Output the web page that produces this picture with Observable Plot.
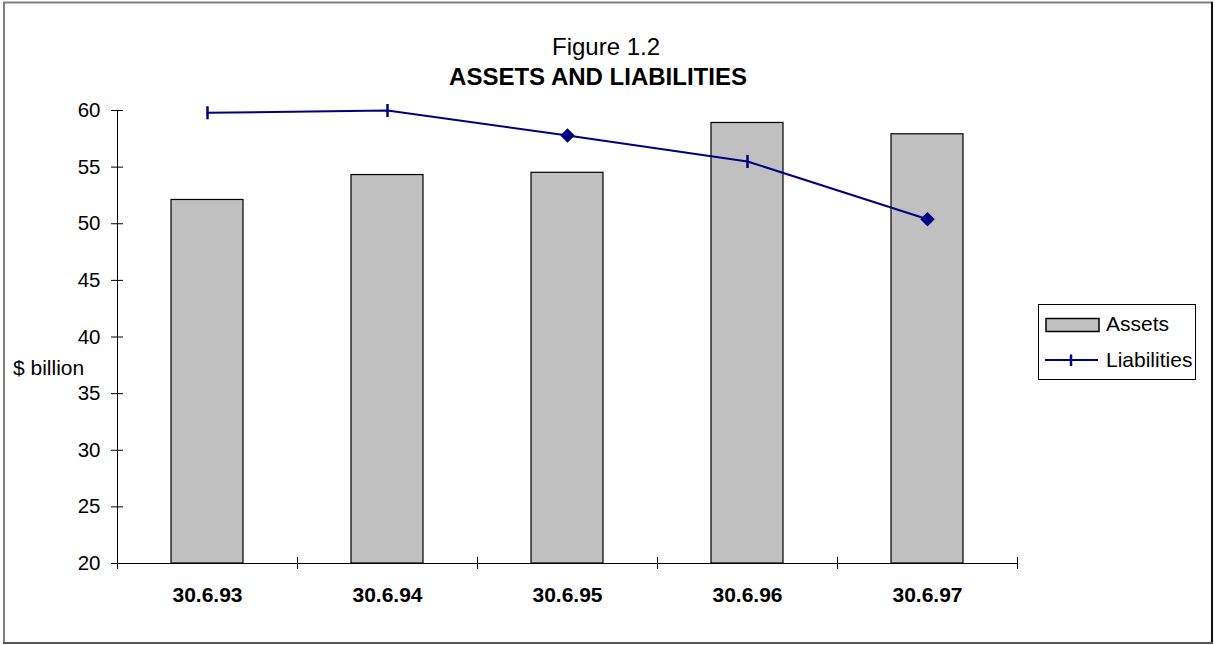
<!DOCTYPE html>
<html>
<head>
<meta charset="utf-8">
<script src="https://cdn.jsdelivr.net/npm/d3@7"></script>
<script src="https://cdn.jsdelivr.net/npm/@observablehq/plot@0.6"></script>
<style>
  html, body { margin: 0; padding: 0; background: #fff; }
  #wrap { position: relative; width: 1215px; height: 645px; overflow: hidden; }
  #wrap svg { position: absolute; left: 0; top: 0; }
</style>
</head>
<body>
<div id="wrap"></div>
<script>
// ---- data ----
const dates = ["30.6.93", "30.6.94", "30.6.95", "30.6.96", "30.6.97"];
const assets = [52.1, 54.3, 54.5, 58.9, 57.9];
const liabilities = [59.8, 60.0, 57.8, 55.5, 50.4];
const yTicks = [20, 25, 30, 35, 40, 45, 50, 55, 60];
const seriesNames = ["Assets", "Liabilities"];
const titleLines = ["Figure 1.2", "ASSETS AND LIABILITIES"];
const yLabel = "$ billion";

const rows = dates.map((d, i) => ({ date: d, assets: assets[i], liabilities: liabilities[i], i }));
const diamondIdx = new Set([2, 4]);

const navy = "#000080";
const font = "'Liberation Sans', Arial, Helvetica, sans-serif";

const vbar = {
  draw(context, size) {
    const h = Math.sqrt(size / Math.PI);
    context.moveTo(0, -h);
    context.lineTo(0, h);
  }
};

const chart = Plot.plot({
  width: 1215,
  height: 645,
  marginLeft: 117,
  marginRight: 198,
  marginTop: 110,
  marginBottom: 82,
  style: { fontFamily: font, fontSize: "20px", color: "#000", background: "transparent" },
  x: { domain: dates, paddingInner: 0.6, paddingOuter: 0.3, label: null },
  y: { domain: [20, 60], ticks: yTicks, label: null },
  marks: [
    Plot.barY(rows, { x: "date", y1: 20, y2: "assets", fill: "#c0c0c0", stroke: "#000", strokeWidth: 1.2 }),
    Plot.frame({ anchor: "left", stroke: "#000" }),
    Plot.frame({ anchor: "bottom", stroke: "#000" }),
    Plot.tickY(yTicks, { y: d => d, insetRight: 888, dx: -6, stroke: "#000" }),
    Plot.tickX(dates, { x: d => d, dx: -90, insetTop: 441, dy: 6, stroke: "#000" }),
    Plot.tickX([dates[dates.length - 1]], { x: d => d, dx: 90, insetTop: 441, dy: 6, stroke: "#000" }),
    Plot.axisY({ ticks: yTicks, tickSize: 0, tickPadding: 17, fontSize: 20.5 }),
    Plot.axisX({ tickSize: 0, tickPadding: 24, fontWeight: "bold", fontSize: 21 }),
    Plot.line(rows, { x: "date", y: "liabilities", stroke: navy, strokeWidth: 2 }),
    Plot.dot(rows.filter(r => !diamondIdx.has(r.i)), { x: "date", y: "liabilities", symbol: vbar, r: 6.5, stroke: navy, strokeWidth: 2.5, fill: "none" }),
    Plot.dot(rows.filter(r => diamondIdx.has(r.i)), { x: "date", y: "liabilities", symbol: "square", rotate: 45, r: 5.8, fill: navy, stroke: "none" })
  ]
});
document.getElementById("wrap").appendChild(chart);

// ---- overlay: border, titles, y label, legend ----
const ov = d3.select("#wrap").append("svg")
  .attr("width", 1215).attr("height", 645)
  .style("pointer-events", "none")
  .style("font-family", font);

ov.append("line").attr("x1", 3).attr("x2", 1213).attr("y1", 2.5).attr("y2", 2.5).attr("stroke", "#808080").attr("stroke-width", 2);
ov.append("line").attr("x1", 4).attr("x2", 4).attr("y1", 2).attr("y2", 644).attr("stroke", "#808080").attr("stroke-width", 2);
ov.append("line").attr("x1", 1212).attr("x2", 1212).attr("y1", 2).attr("y2", 644).attr("stroke", "#111").attr("stroke-width", 2);
ov.append("line").attr("x1", 3).attr("x2", 1213).attr("y1", 643).attr("y2", 643).attr("stroke", "#555").attr("stroke-width", 2);

ov.append("text").attr("x", 606).attr("y", 55).attr("text-anchor", "middle")
  .attr("font-size", 24).text(titleLines[0]);
ov.append("text").attr("x", 598).attr("y", 84.5).attr("text-anchor", "middle")
  .attr("font-size", 24).attr("font-weight", "bold").text(titleLines[1]);

ov.append("text").attr("x", 13).attr("y", 375).attr("font-size", 21).text(yLabel);

const lg = ov.append("g");
lg.append("rect").attr("x", 1038.5).attr("y", 304.5).attr("width", 157).attr("height", 75)
  .attr("fill", "#fff").attr("stroke", "#000").attr("stroke-width", 1);
lg.append("rect").attr("x", 1046).attr("y", 318.5).attr("width", 53).attr("height", 13)
  .attr("fill", "#c0c0c0").attr("stroke", "#000").attr("stroke-width", 1.5);
lg.append("text").attr("x", 1106).attr("y", 331).attr("font-size", 21).text(seriesNames[0]);
lg.append("line").attr("x1", 1045).attr("x2", 1098).attr("y1", 360).attr("y2", 360)
  .attr("stroke", navy).attr("stroke-width", 2);
lg.append("line").attr("x1", 1071).attr("x2", 1071).attr("y1", 354.5).attr("y2", 366)
  .attr("stroke", navy).attr("stroke-width", 2.5);
lg.append("text").attr("x", 1106).attr("y", 367).attr("font-size", 21).text(seriesNames[1]);
</script>
</body>
</html>
